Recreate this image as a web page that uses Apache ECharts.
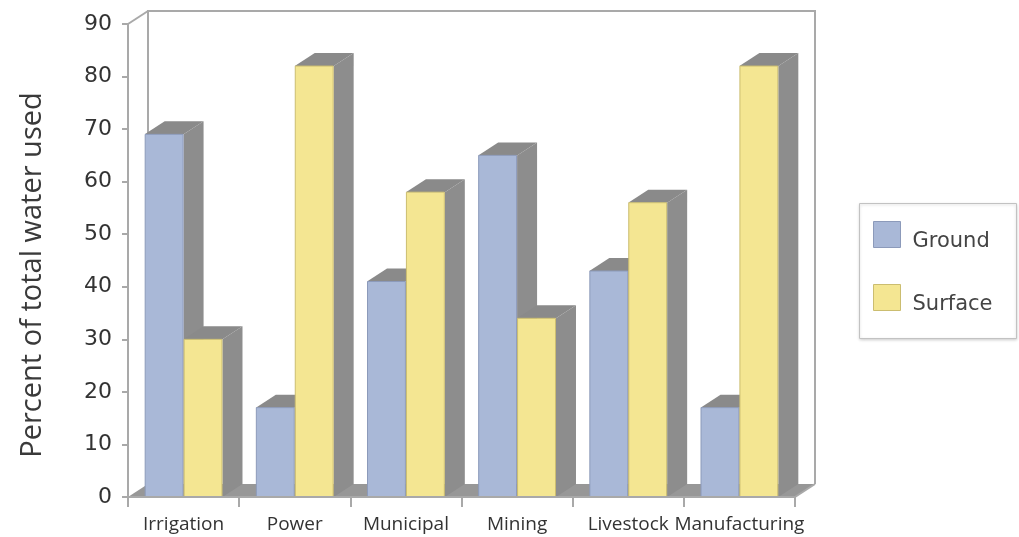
<!DOCTYPE html>
<html>
<head>
<meta charset="utf-8">
<script src="https://cdn.jsdelivr.net/npm/echarts@6/dist/echarts.min.js"></script>
<style>
  html, body { margin: 0; padding: 0; background: #ffffff; }
  #chart { width: 1019px; height: 537px; }
</style>
</head>
<body>
<div id="chart"></div>
<script>
// Share of total water use drawn from ground vs. surface sources, by sector
const categories = ['Irrigation', 'Power', 'Municipal', 'Mining', 'Livestock', 'Manufacturing'];
const groundValues = [69, 17, 41, 65, 43, 17];
const surfaceValues = [30, 82, 58, 34, 56, 82];
const seriesNames = ['Ground', 'Surface'];
const yAxisTitle = 'Percent of total water used';
const yMin = 0, yMax = 90, yStep = 10;

// pseudo-3D depth offset of the bars and the chart box
const DX = 20, DY = 13;
const SIDE = '#8d8d8d', TOP = '#8a8a8a', FRAME = '#a9a9a9';
const GROUND = { face: '#a9b8d7', edge: '#8c9aba' };
const SURFACE = { face: '#f4e692', edge: '#cbbd70' };

function barRenderer(slot, colors) {
  return function (params, api) {
    const i = api.value(0), v = api.value(1);
    const top = api.coord([i, v]);
    const base = api.coord([i, 0]);
    const band = api.size([1, 0])[0];
    const w = band * 0.35;
    const x0 = top[0] - w + slot * w, x1 = x0 + w;
    const yT = top[1], yB = base[1];
    return {
      type: 'group',
      children: [
        { type: 'polygon', shape: { points: [[x1, yB], [x1 + DX, yB - DY], [x1 + DX, yT - DY], [x1, yT]] },
          style: { fill: SIDE } },
        { type: 'polygon', shape: { points: [[x0, yT], [x1, yT], [x1 + DX, yT - DY], [x0 + DX, yT - DY]] },
          style: { fill: TOP } },
        { type: 'rect', shape: { x: x0 + 0.5, y: yT, width: w - 1, height: yB - yT },
          style: { fill: colors.face, stroke: colors.edge, lineWidth: 1 } }
      ]
    };
  };
}

// back wall, floor and the depth edges of the box
function frameRenderer(params) {
  const cs = params.coordSys;
  const l = cs.x, r = cs.x + cs.width, t = cs.y, b = cs.y + cs.height;
  return {
    type: 'group',
    children: [
      { type: 'polygon', shape: { points: [[l, b], [r, b], [r + DX, b - DY], [l + DX, b - DY]] },
        style: { fill: '#979797' } },
      { type: 'polyline', shape: { points: [[l + DX, b - DY], [l + DX, t - DY], [r + DX, t - DY], [r + DX, b - DY]] },
        style: { fill: null, stroke: FRAME, lineWidth: 2 } },
      { type: 'line', shape: { x1: l, y1: t, x2: l + DX, y2: t - DY },
        style: { stroke: FRAME, lineWidth: 2 } },
      { type: 'line', shape: { x1: r, y1: b, x2: r + DX, y2: b - DY },
        style: { stroke: FRAME, lineWidth: 2 } }
    ]
  };
}

const chart = echarts.init(document.getElementById('chart'), null, { renderer: 'canvas' });

chart.setOption({
  backgroundColor: '#ffffff',
  animation: false,
  grid: { left: 128, right: 224, top: 24, bottom: 40, containLabel: false },
  xAxis: {
    type: 'category',
    data: categories,
    boundaryGap: true,
    z: 10,
    axisLine: { lineStyle: { color: FRAME, width: 2 } },
    axisTick: { show: true, interval: 0, length: 10, lineStyle: { color: FRAME, width: 2 } },
    axisLabel: { interval: 0, margin: 18, color: '#333', fontFamily: 'Open Sans', fontSize: 19 },
    splitLine: { show: false }
  },
  yAxis: {
    type: 'value',
    min: yMin, max: yMax, interval: yStep,
    z: 10,
    axisLine: { show: true, lineStyle: { color: FRAME, width: 2 } },
    axisTick: { show: true, length: 6, lineStyle: { color: FRAME, width: 2 } },
    axisLabel: { margin: 16, color: '#333', fontFamily: 'DejaVu Sans', fontSize: 22 },
    splitLine: { show: false }
  },
  legend: {
    orient: 'vertical',
    left: 873, top: 221,
    padding: 0,
    itemWidth: 27, itemHeight: 26, itemGap: 32,
    icon: 'rect',
    z: 20,
    formatter: '{t|{name}}',
    textStyle: {
      color: '#444', fontFamily: 'DejaVu Sans', fontSize: 21,
      rich: { t: { color: '#444', fontFamily: 'DejaVu Sans', fontSize: 21, padding: [14, 0, 0, 7] } }
    },
    data: [
      { name: seriesNames[0], itemStyle: { color: GROUND.face, borderColor: GROUND.edge, borderWidth: 1 } },
      { name: seriesNames[1], itemStyle: { color: SURFACE.face, borderColor: SURFACE.edge, borderWidth: 1 } }
    ]
  },
  graphic: [
    { type: 'rect', z: 0, shape: { x: 859.5, y: 203.5, width: 157, height: 135 },
      style: { fill: '#ffffff', stroke: '#c2c2c2', lineWidth: 1,
               shadowBlur: 3, shadowColor: 'rgba(0,0,0,0.18)', shadowOffsetY: 1 } },
    { type: 'text', x: 33, y: 275, rotation: Math.PI / 2,
      style: { text: yAxisTitle, fill: '#3a3a3a', fontFamily: 'Open Sans', fontSize: 29,
               align: 'center', verticalAlign: 'middle' } }
  ],
  series: [
    { type: 'custom', name: '__frame', silent: true, z: 1, clip: false,
      renderItem: frameRenderer, data: [[0, 0]], encode: { x: 0, y: 1 } },
    { type: 'custom', name: seriesNames[0], z: 2, clip: false,
      itemStyle: { color: GROUND.face },
      renderItem: barRenderer(0, GROUND),
      encode: { x: 0, y: 1 },
      data: groundValues.map((v, i) => [i, v]) },
    { type: 'custom', name: seriesNames[1], z: 3, clip: false,
      itemStyle: { color: SURFACE.face },
      renderItem: barRenderer(1, SURFACE),
      encode: { x: 0, y: 1 },
      data: surfaceValues.map((v, i) => [i, v]) }
  ]
});
</script>
</body>
</html>
